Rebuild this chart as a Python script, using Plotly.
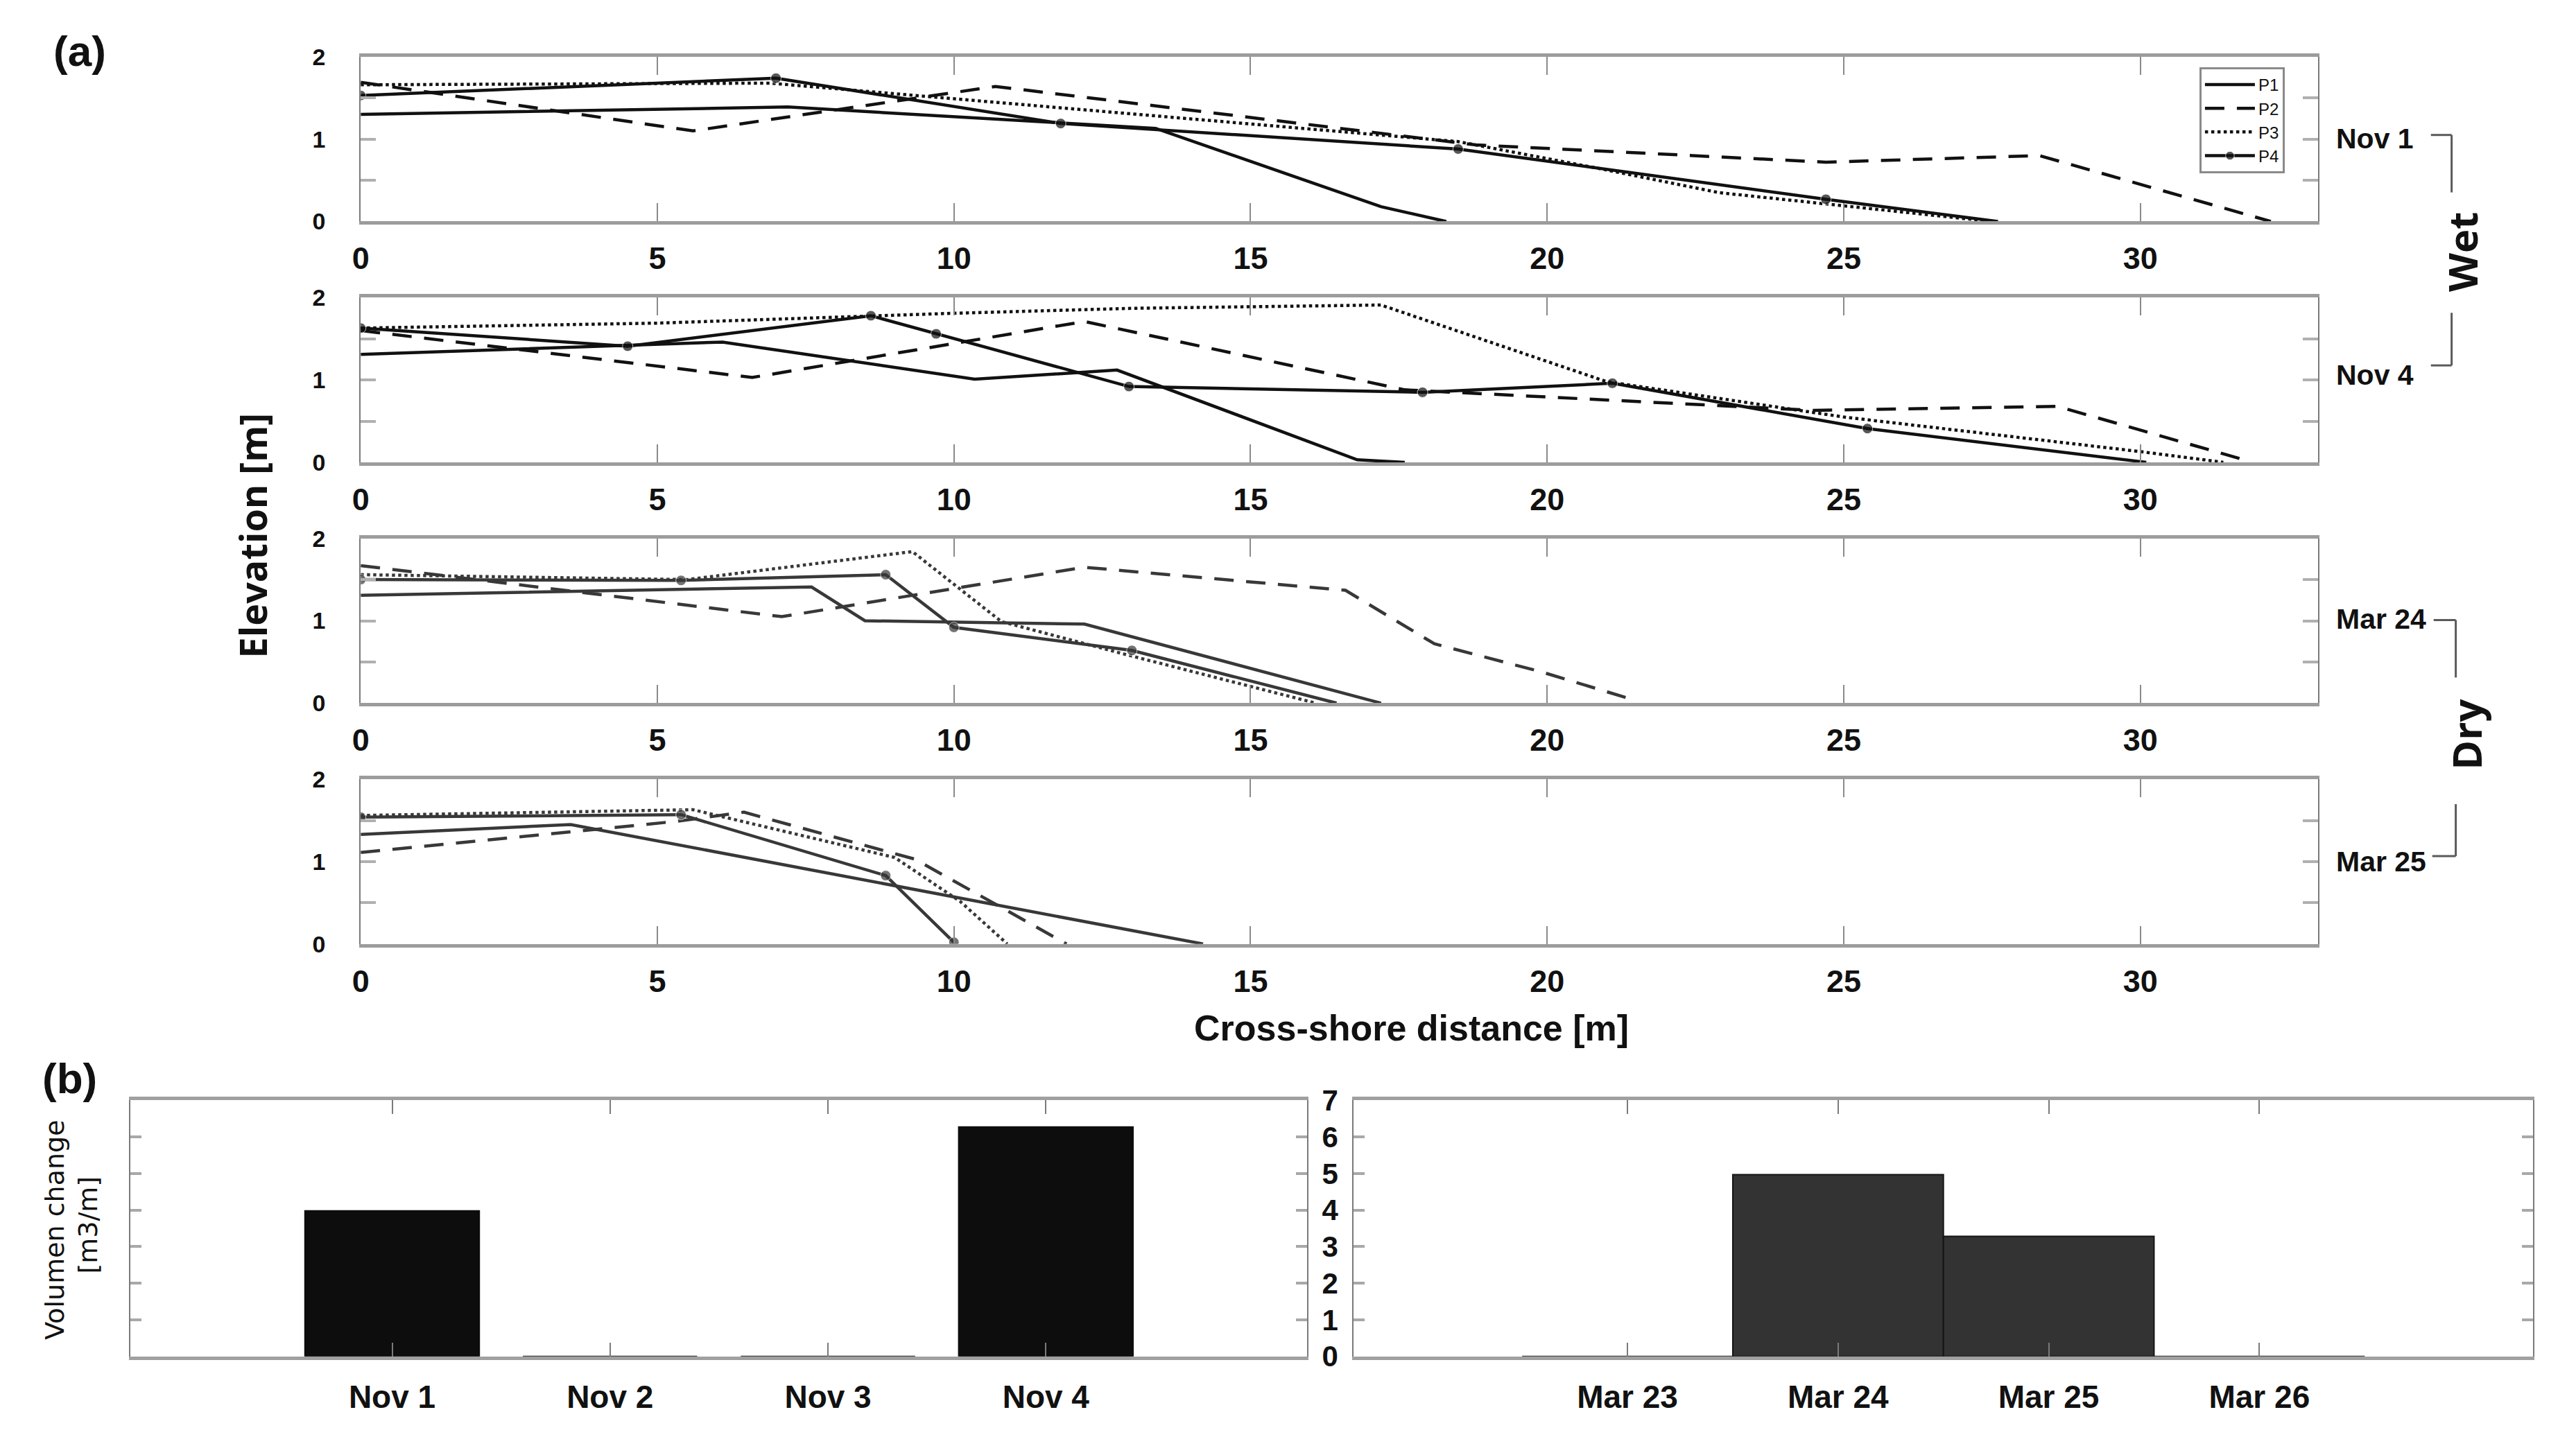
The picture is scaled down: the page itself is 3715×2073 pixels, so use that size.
import plotly.graph_objects as go

W, H = 3715, 2073

# ---------------- data (a): cross-shore profiles ----------------
panels = ["Nov 1", "Nov 4", "Mar 24", "Mar 25"]

nov1_p1_x = [0, 7.2, 13.4, 17.2, 18.3]
nov1_p1_z = [1.30, 1.39, 1.13, 0.18, 0.0]
nov1_p2_x = [0, 5.6, 10.7, 18.8, 24.7, 28.3, 32.2]
nov1_p2_z = [1.69, 1.10, 1.64, 0.93, 0.72, 0.80, 0.0]
nov1_p3_x = [0, 6.9, 18.5, 20.9, 22.9, 24.7, 27.5]
nov1_p3_z = [1.66, 1.68, 0.97, 0.64, 0.35, 0.21, 0.0]
nov1_p4_x = [0, 7.0, 11.8, 18.5, 24.7, 27.6]
nov1_p4_z = [1.53, 1.74, 1.19, 0.88, 0.27, 0.0]

nov4_p1_x = [0, 6.1, 10.35, 12.75, 16.8, 17.6]
nov4_p1_z = [1.31, 1.46, 1.01, 1.12, 0.03, 0.0]
nov4_p2_x = [0, 6.6, 12.2, 17.6, 24.5, 28.6, 31.8]
nov4_p2_z = [1.60, 1.03, 1.71, 0.88, 0.63, 0.68, 0.02]
nov4_p3_x = [0, 5, 10, 13, 17.2, 21.0, 25.0, 30.0, 31.4]
nov4_p3_z = [1.63, 1.69, 1.81, 1.87, 1.91, 0.98, 0.55, 0.13, 0.0]
nov4_p4_x = [0, 4.5, 8.6, 9.7, 12.95, 17.9, 21.1, 25.4, 30.1]
nov4_p4_z = [1.63, 1.41, 1.78, 1.56, 0.92, 0.85, 0.96, 0.41, 0.0]

mar24_p1_x = [0, 7.6, 8.5, 12.2, 17.2]
mar24_p1_z = [1.31, 1.41, 1.00, 0.96, 0.0]
mar24_p2_x = [0, 7.1, 12.2, 16.6, 18.1, 19.9, 21.5]
mar24_p2_z = [1.67, 1.05, 1.65, 1.37, 0.72, 0.38, 0.03]
mar24_p3_x = [0, 5.5, 9.3, 10.8, 12.9, 16.1]
mar24_p3_z = [1.56, 1.50, 1.84, 0.99, 0.59, 0.0]
mar24_p4_x = [0, 5.4, 8.85, 10.0, 13.0, 16.45]
mar24_p4_z = [1.50, 1.49, 1.56, 0.92, 0.64, 0.0]

mar25_p1_x = [0, 3.54, 14.2]
mar25_p1_z = [1.33, 1.45, 0.0]
mar25_p2_x = [0, 5.34, 6.46, 9.34, 11.9]
mar25_p2_z = [1.11, 1.49, 1.60, 1.03, 0.0]
mar25_p3_x = [0, 5.6, 9.0, 10.1, 10.9]
mar25_p3_z = [1.56, 1.63, 1.05, 0.52, 0.0]
mar25_p4_x = [0, 5.4, 8.85, 10.0]
mar25_p4_z = [1.54, 1.57, 0.83, 0.02]

profiles = [
    [(nov1_p1_x, nov1_p1_z), (nov1_p2_x, nov1_p2_z), (nov1_p3_x, nov1_p3_z), (nov1_p4_x, nov1_p4_z)],
    [(nov4_p1_x, nov4_p1_z), (nov4_p2_x, nov4_p2_z), (nov4_p3_x, nov4_p3_z), (nov4_p4_x, nov4_p4_z)],
    [(mar24_p1_x, mar24_p1_z), (mar24_p2_x, mar24_p2_z), (mar24_p3_x, mar24_p3_z), (mar24_p4_x, mar24_p4_z)],
    [(mar25_p1_x, mar25_p1_z), (mar25_p2_x, mar25_p2_z), (mar25_p3_x, mar25_p3_z), (mar25_p4_x, mar25_p4_z)],
]
profile_names = ["P1", "P2", "P3", "P4"]
x_ticks = [0, 5, 10, 15, 20, 25, 30]
z_ticks = [0, 0.5, 1, 1.5, 2]
z_ticktext = ["0", "", "1", "", "2"]

# ---------------- data (b): volume change ----------------
nov_dates = ["Nov 1", "Nov 2", "Nov 3", "Nov 4"]
nov_vol = [3.98, 0, 0, 6.27]
mar_dates = ["Mar 23", "Mar 24", "Mar 25", "Mar 26"]
mar_vol = [0, 4.97, 3.28, 0]
vol_ticks = [0, 1, 2, 3, 4, 5, 6, 7]

# ---------------- helpers (pixel -> paper) ----------------
def px(x):
    return x / W

def py(y):
    y2 = (y - 21.0) / 0.979
    return 1 - y2 / H

BOLD = "Liberation Sans, Arial, sans-serif"

fig = go.Figure()

line_x0, line_x1 = 509, 3342
panel_y = [(80, 318), (428, 666), (776, 1014), (1124, 1362)]
line_colors = ["#111111", "#111111", "#383838", "#383838"]
dash_styles = ["solid", "28px,18px", "dot", "solid"]

for i, (top, bot) in enumerate(panel_y):
    xa = "x" if i == 0 else f"x{i+1}"
    ya = "y" if i == 0 else f"y{i+1}"
    col = line_colors[i]
    for j, (xs, zs) in enumerate(profiles[i]):
        if j == 3:
            sizes = [15] * len(xs)
            if i < 3:
                sizes[-1] = 0
            fig.add_trace(go.Scatter(
                x=xs, y=zs, xaxis=xa, yaxis=ya, name=profile_names[j],
                mode="lines+markers",
                line=dict(color=col, width=4.5, dash="solid"),
                marker=dict(color=col, size=sizes, symbol="circle"),
                showlegend=(i == 0), legendgroup=profile_names[j]))
        else:
            fig.add_trace(go.Scatter(
                x=xs, y=zs, xaxis=xa, yaxis=ya, name=profile_names[j],
                mode="lines",
                line=dict(color=col, width=4.5, dash=dash_styles[j]),
                showlegend=(i == 0), legendgroup=profile_names[j]))

    xkey = "xaxis" if i == 0 else f"xaxis{i+1}"
    ykey = "yaxis" if i == 0 else f"yaxis{i+1}"
    fig.update_layout(**{
        xkey: dict(domain=[px(line_x0), px(line_x1)], range=[0, 33], anchor=ya,
                   tickvals=x_ticks, ticks="inside", ticklen=26, tickwidth=2,
                   tickcolor="#8a8a8a", mirror="ticks", showline=True,
                   linecolor="#9c9c9c", linewidth=5, showgrid=False, zeroline=False,
                   ticklabelstandoff=10,
                   tickfont=dict(family=BOLD, size=45, color="#111", weight="bold")),
        ykey: dict(domain=[py(bot), py(top)], range=[0, 2], anchor=xa,
                   tickvals=z_ticks, ticktext=z_ticktext, ticks="inside", ticklen=22,
                   tickwidth=4, tickcolor="#b0b0b0", mirror="ticks", showline=True,
                   linecolor="#7a7a7a", linewidth=2, showgrid=False, zeroline=False,
                   ticklabelstandoff=42,
                   tickfont=dict(family=BOLD, size=34, color="#111", weight="bold")),
    })

# ---------------- bars ----------------
bar_top, bar_bot = 1588, 1958
fig.add_trace(go.Bar(x=nov_dates, y=nov_vol, xaxis="x5", yaxis="y5", width=0.8,
                     marker=dict(color="#0d0d0d", line=dict(color="#0d0d0d", width=2)),
                     showlegend=False))
fig.add_trace(go.Bar(x=mar_dates, y=mar_vol, xaxis="x6", yaxis="y6", width=1.0,
                     marker=dict(color="#333333", line=dict(color="#151515", width=2)),
                     showlegend=False))

bar_x_common = dict(ticks="inside", ticklen=20, tickwidth=2, tickcolor="#7a7a7a",
                    mirror="ticks", showline=True, linecolor="#a0a0a0", linewidth=5,
                    showgrid=False, zeroline=False, ticklabelstandoff=14,
                    tickfont=dict(family=BOLD, size=46, color="#111", weight="bold"))
bar_y_common = dict(range=[0, 7], tickvals=vol_ticks, ticks="inside", ticklen=16,
                    tickwidth=4, tickcolor="#a8a8a8", mirror="ticks", showline=True,
                    linecolor="#7a7a7a", linewidth=2, showgrid=False, zeroline=False)

fig.update_layout(
    xaxis5=dict(domain=[px(176), px(1879)], anchor="y5", type="category",
                range=[-1.2, 4.2], **bar_x_common),
    yaxis5=dict(domain=[py(bar_bot), py(bar_top)], anchor="x5", showticklabels=False,
                **bar_y_common),
    xaxis6=dict(domain=[px(1946), px(3653)], anchor="y6", type="category",
                range=[-1.3, 4.3], **bar_x_common),
    yaxis6=dict(domain=[py(bar_bot), py(bar_top)], anchor="x6", ticklabelstandoff=12,
                tickfont=dict(family=BOLD, size=42, color="#111", weight="bold"),
                **bar_y_common),
)

# ---------------- text ----------------
ann = []

def add_text(text, x, y, size, angle=0, family=BOLD, weight="bold", xanchor="center",
             color="#111"):
    ann.append(dict(text=text, x=px(x), y=py(y), xref="paper", yref="paper",
                    showarrow=False, textangle=angle, xanchor=xanchor, yanchor="middle",
                    font=dict(family=family, size=size, color=color, weight=weight)))

add_text("(a)", 102, 72, 62)
add_text("(b)", 88, 1556, 62)
add_text("Elevation [m]", 352, 772, 54, angle=-90, family="Open Sans, Liberation Sans")
add_text("Cross-shore distance [m]", 2030, 1483, 52)
add_text("Volumen change", 66, 1775, 38, angle=-90, family="DejaVu Sans", weight="normal")
add_text("[m3/m]", 114, 1768, 38, angle=-90, family="DejaVu Sans", weight="normal")
for label, yy in zip(panels, [198, 540, 892, 1243]):
    add_text(label, 3366, yy, 41, xanchor="left")
add_text("Wet", 3550, 362, 58, angle=-90, family="Open Sans, Liberation Sans")
add_text("Dry", 3556, 1060, 58, angle=-90, family="Open Sans, Liberation Sans")

shapes = []

def seg(x0, y0, x1, y1):
    shapes.append(dict(type="line", xref="paper", yref="paper", x0=px(x0), y0=py(y0),
                       x1=px(x1), y1=py(y1), line=dict(color="#5a5a5a", width=3)))

seg(3505, 193, 3535, 193)
seg(3535, 193, 3535, 276)
seg(3535, 450, 3535, 526)
seg(3505, 526, 3535, 526)
seg(3509, 894, 3541, 894)
seg(3541, 894, 3541, 977)
seg(3541, 1160, 3541, 1235)
seg(3507, 1235, 3541, 1235)

fig.update_layout(
    width=W, height=H, margin=dict(l=0, r=0, t=0, b=0),
    paper_bgcolor="white", plot_bgcolor="white",
    annotations=ann, shapes=shapes,
    legend=dict(x=px(3170), y=py(95), xanchor="left", yanchor="top",
                bgcolor="white", bordercolor="#8a8a8a", borderwidth=3,
                font=dict(family="Liberation Sans", size=24, color="#111"),
                itemwidth=72, tracegroupgap=0),
)

fig.write_html("out.html", config={"displayModeBar": False},
               post_script="document.body.style.margin='0';document.body.style.overflow='hidden';")
